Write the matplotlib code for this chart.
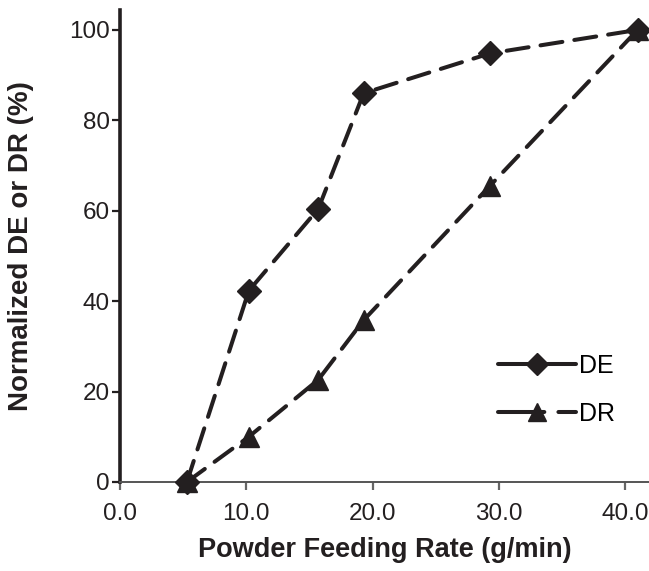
import numpy as np
import matplotlib.pyplot as plt
from matplotlib.lines import Line2D

plt.rcParams['font.family'] = ['Liberation Sans', 'DejaVu Sans']

# data
feed_rate = [5.3, 10.2, 15.7, 19.3, 29.3, 41.0]
de_norm = [0, 42.3, 60.4, 86.0, 94.8, 100]
dr_norm = [0, 10.0, 22.6, 35.8, 65.5, 100]
xticks = [0, 10, 20, 30, 40]
yticks = [0, 20, 40, 60, 80, 100]

ink = '#231f20'
W, H = 649, 571
fig = plt.figure(figsize=(W / 100, H / 100), dpi=100)
# axes box in pixels: left 120, right 649, top 10, bottom 482
ax = fig.add_axes([120 / W, (H - 482) / H, (649 - 120) / W, (482 - 10) / H])

lw = 2.9
dash = (5.5, 3)
ax.plot(feed_rate, de_norm, color=ink, lw=lw, dashes=dash, dash_capstyle='round',
        marker='D', markersize=12, clip_on=False, zorder=3)
ax.plot(feed_rate, dr_norm, color=ink, lw=lw, dashes=dash, dash_capstyle='round',
        marker='^', markersize=15, clip_on=False, zorder=3)

ax.set_xlim(0, 41.9)
ax.set_ylim(0, 104.4)
ax.set_xticks(xticks)
ax.set_xticklabels([f'{v:.1f}' for v in xticks])
ax.set_yticks(yticks)

ax.spines['top'].set_visible(False)
ax.spines['right'].set_visible(False)
ax.spines['left'].set_linewidth(2.6)
ax.spines['left'].set_color(ink)
ax.spines['bottom'].set_linewidth(1.4)
ax.spines['bottom'].set_color('#555555')
ax.tick_params(axis='y', direction='out', length=6, width=1.6, color=ink,
               labelsize=17.5, labelcolor=ink, pad=1.5)
ax.tick_params(axis='x', direction='out', length=6, width=1.6, color='#666666',
               labelsize=17.5, labelcolor=ink, pad=9)

ax.set_xlabel('Powder Feeding Rate (g/min)', fontsize=19.5, fontweight='bold', color=ink, labelpad=9)
ax.set_ylabel('Normalized DE or DR (%)', fontsize=20, fontweight='bold', color=ink, labelpad=25)

handles = [
    Line2D([], [], color=ink, lw=lw, ls='-', solid_capstyle='round', marker='D', markersize=11),
    Line2D([], [], color=ink, lw=lw, dashes=(11.5, 3.5), dash_capstyle='round',
           marker='^', markersize=13),
]
ax.legend(handles, ['DE', 'DR'], loc='lower right', bbox_to_anchor=(0.979, 0.072),
          frameon=False, fontsize=18, handlelength=3.1, handletextpad=0.15,
          labelspacing=0.95)

fig.savefig('out.png', dpi=100)
